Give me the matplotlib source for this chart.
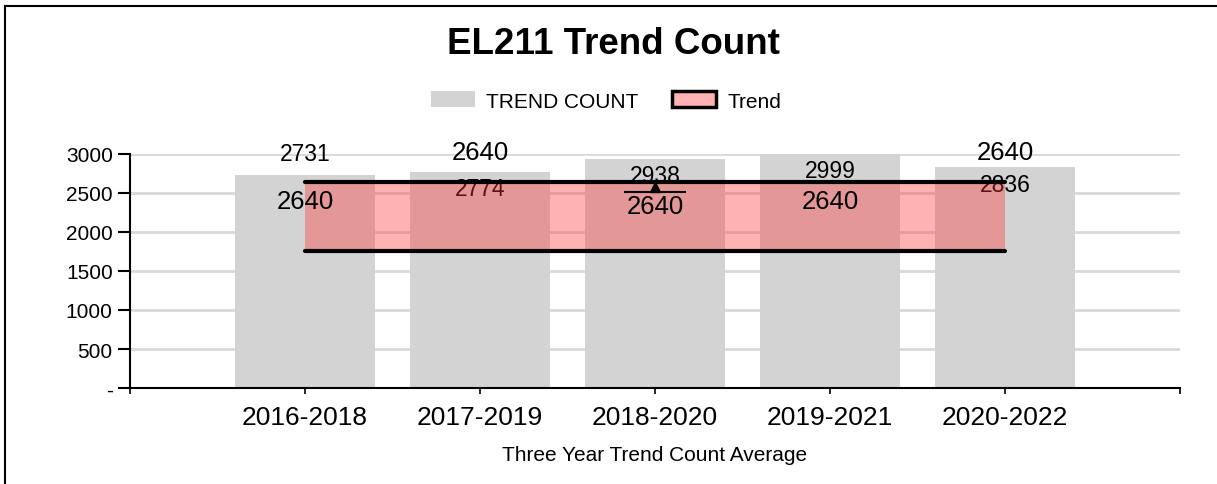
import matplotlib
matplotlib.use("Agg")
import matplotlib.pyplot as plt
from matplotlib.patches import Patch
from matplotlib.lines import Line2D
from matplotlib.ticker import FuncFormatter
import numpy as np

plt.rcParams['font.family'] = ['Liberation Sans', 'DejaVu Sans']

periods = ["2016-2018", "2017-2019", "2018-2020", "2019-2021", "2020-2022"]
trend_count = [2731, 2774, 2938, 2999, 2836]
trend_high = [2640, 2640, 2640, 2640, 2640]
trend_low = [1750, 1750, 1750, 1750, 1750]
marker_value = 2580   # little triangle sitting on 2018-2020

# where the original chart dropped its data labels (offset from value, data units)
count_nudge = [269, -219, -218, -214, -221]
trend_nudge = [-240, 390, -305, -240, 390]

W, H = 1217, 485
fig = plt.figure(figsize=(W / 100, H / 100), dpi=100)
ax = fig.add_axes([130 / W, 1 - 389 / H, 1050 / W, 234 / H])

x = np.arange(len(periods))
bar_col = '#D3D3D3'
band_col = (1.0, 0.19, 0.19)

ax.bar(x, trend_count, width=0.8, color=bar_col, zorder=2)
for i, v in enumerate(trend_count):
    ax.text(i, v + count_nudge[i], str(v), ha='center', va='center',
            fontsize=16.5, color='black', zorder=3)

# trend band drawn over bars + their labels (semi transparent like excel)
ax.fill_between(x, trend_low, trend_high, color=band_col, alpha=0.37, lw=0, zorder=4)
ax.plot(x, trend_high, color='black', lw=3, zorder=5, solid_capstyle='round')
ax.plot(x, trend_low, color='black', lw=3, zorder=5, solid_capstyle='round')
for i, v in enumerate(trend_high):
    ax.text(i, v + trend_nudge[i], str(v), ha='center', va='center',
            fontsize=18.5, color='black', zorder=6)

ax.plot([2], [marker_value], marker='^', color='black', ms=7, zorder=6)
ax.hlines(marker_value - 65, 2 - 0.175, 2 + 0.175, color='black', lw=1.5, zorder=6)

ax.set_xlim(-1, 5)
ax.set_ylim(0, 3000)
ax.set_xticks(np.arange(-1, 6))
ax.set_xticklabels([''] + periods + [''], fontsize=19)
ax.set_yticks(np.arange(0, 3001, 500))
ax.yaxis.set_major_formatter(FuncFormatter(lambda v, p: '-' if v == 0 else f'{int(v)}'))
ax.tick_params(axis='y', labelsize=15, length=9, width=1.5, pad=3.5)
ax.tick_params(axis='x', length=4, width=1.2, pad=8)

ax.yaxis.grid(True, color='#D9D9D9', lw=2)
ax.set_axisbelow(True)
for s in ['top', 'right']:
    ax.spines[s].set_visible(False)
ax.spines['left'].set_linewidth(1.5)
ax.spines['bottom'].set_linewidth(1.5)

ax.set_xlabel('Three Year Trend Count Average', fontsize=15, labelpad=12)

fig.text(0.504, 1 - 45 / H, 'EL211 Trend Count', ha='center', va='center',
         fontsize=26.5, fontweight='bold')

handles = [Patch(facecolor=bar_col, edgecolor='none', label='TREND COUNT'),
           Patch(facecolor=(1.0, 0.70, 0.70), edgecolor='black', lw=2.5, label='Trend')]
fig.legend(handles=handles, loc='center', bbox_to_anchor=(0.498, 1 - 102 / H),
           ncol=2, frameon=False, fontsize=15, handlelength=2.1, handleheight=0.8,
           columnspacing=1.6, handletextpad=0.55)

# outer chart frame (only left/top edges are visible in the crop)
fig.add_artist(Line2D([5 / W, 5 / W], [0, 1 - 7 / H], color='black', lw=1.5,
                      transform=fig.transFigure))
fig.add_artist(Line2D([5 / W, 1], [1 - 7 / H, 1 - 7 / H], color='black', lw=1.5,
                      transform=fig.transFigure))

fig.savefig('out.png', dpi=100)
